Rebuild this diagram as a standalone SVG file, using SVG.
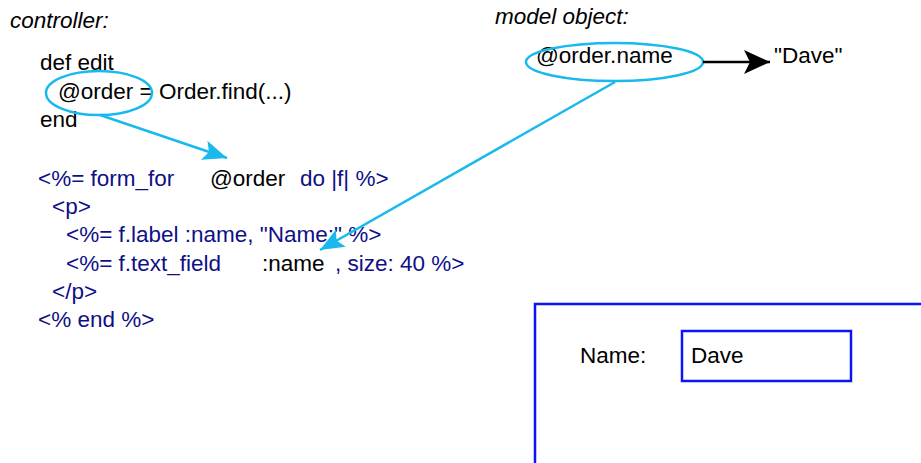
<svg xmlns="http://www.w3.org/2000/svg" width="921" height="463" viewBox="0 0 921 463">
<style>
text{font-family:"Liberation Sans",Arial,sans-serif;font-size:22.5px;fill:#000}
.it{font-style:italic}
.nv{fill:#0f0f86}
.hl{fill:none;stroke:#19b9ee;stroke-width:2.5}
.bx{fill:none;stroke:#0a14f5;stroke-width:2.5}
</style>
<defs>
<marker id="ab" markerUnits="userSpaceOnUse" markerWidth="26" markerHeight="22" refX="24" refY="10" orient="auto">
<path d="M0,0 L24,10 L0,20 L5,10 z" fill="#19b9ee"/>
</marker>
<marker id="ak" markerUnits="userSpaceOnUse" markerWidth="28" markerHeight="26" refX="26" refY="12" orient="auto">
<path d="M0,0 L26,12 L0,24 L6,12 z" fill="#000"/>
</marker>
</defs>
<rect width="921" height="463" fill="#fff"/>
<g id="controller">
<text class="it" x="10" y="28">controller:</text>
<text x="40" y="70">def edit</text>
<text x="58" y="99">@order = Order.find(...)</text>
<text x="40" y="127">end</text>
<ellipse class="hl" cx="99" cy="93" rx="53" ry="22"/>
</g>
<g id="view">
<text class="nv" x="38" y="186">&lt;%= form_for</text>
<text x="210" y="186">@order</text>
<text class="nv" x="300" y="186">do |f| %&gt;</text>
<text class="nv" x="52" y="214">&lt;p&gt;</text>
<text class="nv" x="66" y="242">&lt;%= f.label :name, "Name:" %&gt;</text>
<text class="nv" x="66" y="271">&lt;%= f.text_field</text>
<text x="262" y="271">:name</text>
<text class="nv" x="335" y="271">, size: 40 %&gt;</text>
<text class="nv" x="52" y="299">&lt;/p&gt;</text>
<text class="nv" x="38" y="327">&lt;% end %&gt;</text>
</g>
<g id="model">
<text class="it" x="495" y="24">model object:</text>
<text x="536" y="63">@order.name</text>
<ellipse class="hl" cx="614.5" cy="62" rx="88.5" ry="19"/>
<text x="774" y="63">"Dave"</text>
</g>
<g id="browser">
<rect class="bx" x="535" y="304" width="400" height="170"/>
<text x="580" y="363">Name:</text>
<rect class="bx" x="682" y="331" width="169" height="50"/>
<text x="691" y="363">Dave</text>
</g>
<g id="connectors">
<line x1="100" y1="115" x2="227" y2="158" stroke="#19b9ee" stroke-width="2.5" marker-end="url(#ab)"/>
<line x1="615" y1="82" x2="320" y2="250" stroke="#19b9ee" stroke-width="2.5" marker-end="url(#ab)"/>
<line x1="703" y1="62" x2="770" y2="62" stroke="#000" stroke-width="2.5" marker-end="url(#ak)"/>
</g>
</svg>
